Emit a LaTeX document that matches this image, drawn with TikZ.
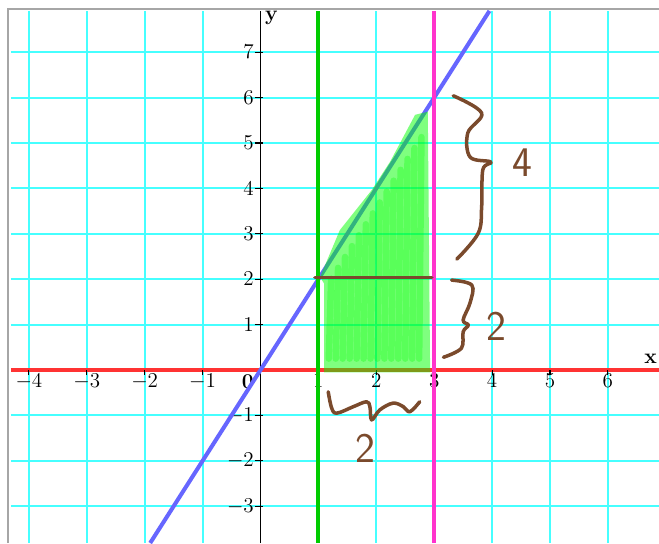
\documentclass[tikz,border=0pt]{standalone}
\usepackage{tikz}
\definecolor{gridcyan}{RGB}{70,255,255}
\definecolor{axisred}{RGB}{255,51,51}
\definecolor{lineblue}{RGB}{102,102,255}
\definecolor{linegreen}{RGB}{0,204,0}
\definecolor{linemagenta}{RGB}{255,51,204}
\definecolor{penbrown}{RGB}{122,74,44}
\definecolor{shadegreen}{RGB}{0,255,0}
\tikzstyle{gridline} = [gridcyan, line width=1.1pt]
\tikzstyle{graphline} = [line width=2.3pt]
\tikzstyle{ticmark} = [black, line width=0.6pt]
\tikzstyle{pen} = [penbrown, line width=2pt, line cap=round, line join=round]
\tikzstyle{scrib} = [shadegreen, opacity=0.3, line width=0.13cm, line cap=round]
\tikzstyle{handnum} = [penbrown, font=\sffamily\fontsize{24}{24}\selectfont]

\begin{document}
\begin{tikzpicture}[x=1.158cm, y=0.908cm, every node/.style={font=\fontsize{12}{12}\selectfont}]
\useasboundingbox (-4.499,-3.811) rectangle (6.883,8.150);

% --- grid ---
\foreach \i in {-4,...,6}
  \draw[gridline] (\i,-3.811) -- (\i,7.91);
\foreach \j in {-3,...,7}
  \draw[gridline] (-4.31,\j) -- (6.883,\j);

% frame
\draw[gray!70, line width=1.1pt] (-4.36,-3.811) -- (-4.36,7.95) -- (6.883,7.95);

% --- axes ---
\draw[axisred, line width=2.3pt] (-4.31,0) -- (6.883,0);
\draw[ticmark] (0,-3.811) -- (0,7.91);

\foreach \i in {-4,...,-1,1,2,...,6} {
  \draw[ticmark] (\i,0) -- (\i,-0.12);
  \node[anchor=north, inner sep=1pt] (xl\i) at (\i,-0.05) {$\i$};
}
\foreach \j in {-3,...,-1,1,2,...,7} {
  \draw[ticmark] (-0.1,\j) -- (0.05,\j);
  \node[anchor=east, inner sep=1pt] (yl\j) at (-0.08,\j) {$\j$};
}

\node (orig) at (-0.22,-0.26) {\textbf{0}};
\node (ylab) at (0.19,7.75) {\textbf{y}};
\node[anchor=east, inner sep=1pt] (xlab) at (6.883,0.24) {\textbf{x}};

% --- y = 2x ---
\draw[graphline, lineblue] (-1.905,-3.811) -- (3.955,7.91);

% --- shaded area ---
\fill[shadegreen, opacity=0.5] (1.10,-0.05) -- (1.10,1.9) -- (1.03,2.05) -- (1.37,3.08)
  -- (1.92,3.96) -- (2.24,4.59) -- (2.67,5.62) -- (2.89,5.69) -- (2.93,-0.05) -- cycle;
\foreach \x in {1.18,1.30,...,2.86}
  \draw[scrib] (\x,0.25) -- ({\x+0.04},{min(2*\x-0.35,5.4)});

% --- x = 1 and x = 3 ---
\draw[graphline, linegreen] (1,-3.811) -- (1,7.91);
\draw[graphline, linemagenta] (3,-3.811) -- (3,7.91);

% --- pen marks ---
\draw[pen] (0.94,2.04) -- (2.96,2.04);

% brace 4
\draw[pen] plot[smooth, tension=0.6] coordinates {(3.33,6.04) (3.82,5.66) (3.58,5.22)
  (3.62,4.69) (3.98,4.58) (3.84,4.41) (3.82,3.59) (3.76,3.01) (3.39,2.44)};
% brace 2
\draw[pen] plot[smooth, tension=0.6] coordinates {(3.30,1.98) (3.65,1.87) (3.62,1.48)
  (3.50,1.10) (3.59,0.99) (3.50,0.84) (3.47,0.48) (3.16,0.28)};
% brace under
\draw[pen] plot[smooth, tension=0.6] coordinates {(1.17,-0.48) (1.23,-0.84) (1.32,-0.95)
  (1.60,-0.81) (1.83,-0.70) (1.89,-0.81) (1.92,-1.10) (2.06,-0.88) (2.29,-0.73)
  (2.47,-0.81) (2.58,-0.92) (2.75,-0.70)};

\node[handnum] (four) at (4.53,4.56) {4};
\node[handnum] (tworight) at (4.07,0.97) {2};
\node[handnum] (twobottom) at (1.82,-1.72) {2};

\end{tikzpicture}
\end{document}
